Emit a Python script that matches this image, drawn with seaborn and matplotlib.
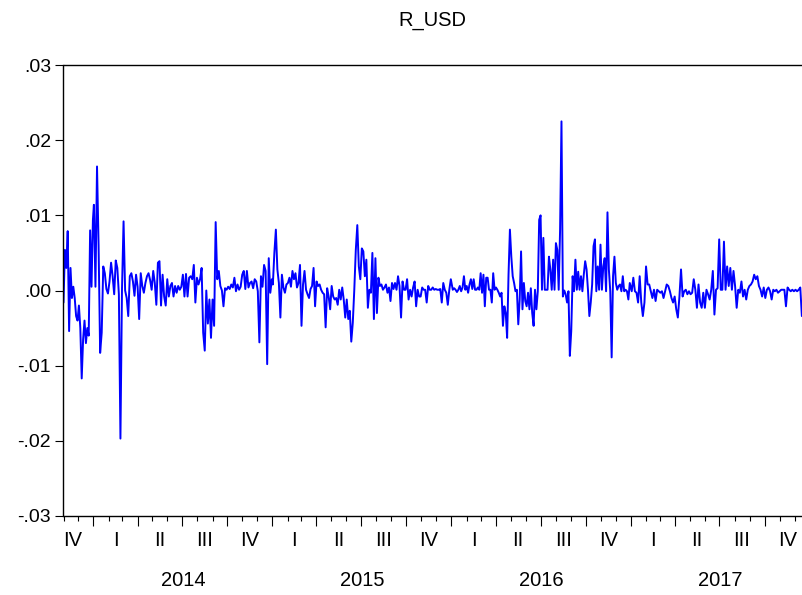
import numpy as np
import pandas as pd
import matplotlib
matplotlib.use("Agg")
import matplotlib.pyplot as plt
import matplotlib.dates as mdates
from matplotlib.ticker import FuncFormatter
from matplotlib.transforms import blended_transform_factory
import seaborn as sns

# Daily USD returns, in thousandths, grouped by calendar year
r_2013 = [-1.6, 5.4, 3.0, 7.9, -5.4, 3.0, -1.0, 0.5, -1.0, -3.4, -4.0, -2.0, -5.0,
          -11.7, -6.5, -4.0, -7.0, -5.0, -6.0, 8.0, 0.5, 9.4]

r_2014 = [11.4, 0.5, 16.5, 6.0, -8.3, -5.6, 3.2, 2.3, 0.2, -0.4, 1.2, 3.7, 1.9, -0.5,
          4.0, 3.0, -0.5, -19.7, 0.2, 9.2, 0.0, -1.0, -3.4, 1.9, 2.3, 1.2, -0.7, 2.1,
          0.5, -3.8, 2.3, 0.6, -0.3, 1.0, 1.9, 2.3, 1.4, 0.1, 2.6, 1.0, -1.9, 3.7, 3.9,
          -2.0, 2.1, -0.8, -2.0, 1.5, -0.8, 0.6, 1.0, -0.8, 0.6, -0.3, 0.6, 0.1, 0.5,
          2.1, -0.8,
          2.2, -0.8, 1.7, 1.9, 1.5, 3.4, -1.6, 1.7, 0.8, 1.5, 3.0, -5.6, -8.0, 0.0,
          -4.4, -1.2, -6.3, -1.2, -4.7, 9.1, 1.5, 2.6, 0.6, 0.0, -2.1, 0.3, 0.1, 0.5,
          0.2, 0.8, 0.4, 1.7, -0.1, 0.8, 0.1, 0.5, 2.1, 2.6, 0.2, 2.6, 0.4, 1.0, 1.2,
          0.3, 1.5, 1.2, -0.1, -6.9, 1.9, 0.5, 3.4, 2.6, -9.8, 4.3, -0.3, 1.5]

r_2015 = [0.8, 5.0, 8.1, 2.8, 1.0, -3.6, 2.1, 0.4, -0.3, 0.8, 1.0, 1.7, 0.5, 2.6,
          1.5, 2.3, 0.4, 1.0, 3.4, -4.7, 0.8, 2.6, 0.1, -0.5, -1.0, 0.2, 0.6, 3.0,
          -2.1,
          1.2, 0.6, 0.8, 0.1, -0.3, -0.5, -4.9, 0.3, -0.8, -2.5, 0.6, -0.8, -1.2,
          -1.0, -1.9, 0.1, -1.2, 0.4, -1.2, -3.6, -1.2, -3.8, -2.7, -6.8, -4.3, 0.1,
          5.4, 8.7, 3.2, 1.5, 5.6, 5.2, 1.9, 4.1, -2.3, 0.1, -0.3, 5.0, -3.8, 4.3,
          -3.0, 1.7, 0.6, 0.8, 0.1, 0.4, 0.8, -0.3, 0.4, -1.4, 1.0, 0.2, 1.0, 0.1,
          1.9, 0.6, -3.6, 1.2, 0.1, 0.1, 1.5, -1.2, 0.1, -0.8, 0.4, 1.2, -2.1, 0.1,
          -0.8, -0.8, 0.4, 0.1, 0.1, -1.6, 0.6, 0.1, 0.1, 0.4, 0.1, 0.2, 0.1, 0.1,
          0.2, -1.6, 1.0, 0.1, -0.3, -1.9, 0.1, 1.5]

r_2016 = [0.1, 0.3, 0.1, -0.2, 0.1, 0.6, -0.1, 0.4, 1.9, 0.1, 0.6, -0.3, 0.8, 1.5,
          0.2, 1.5, 0.1, 0.1, 0.4, 0.1, 2.3, -0.3, 2.1, -2.1, 1.7, 1.7, 0.1, 0.1,
          -1.6, 2.3, 0.1, 0.4, 0.1, -0.3, -0.8, -0.3, -4.7, -2.1, -3.0, -6.3, 2.1,
          8.1, 4.5, 1.9, 1.0, -0.1, 0.1, -4.5, -1.2, 5.2, -2.5, 1.0, -1.4, -2.1,
          -0.3, -2.5, 0.3, -3.0, -4.7, 0.1, -2.5, -0.1, 9.4, 10.0, 0.1, 7.0, 0.1,
          0.1, 0.1, 4.5, 2.8, 0.1, 4.1, 0.1, 6.3, 5.4, 0.1, 8.1, 22.5, -0.8,
          0.0, -0.5, -1.6, -0.1, -8.7, -5.4, 1.9, -0.1, 4.1, 0.1, 2.5, 0.1, 1.9,
          -0.1, 2.1, 3.9, 2.8, 0.1, -3.4, -1.6, 0.8, 5.9, 6.8, -0.1, 3.2, 0.1, 6.1,
          0.1, 3.2, 4.3, -0.1, 10.4, 2.8, -0.1, -8.9, 1.9, 4.5, 1.0, 0.1, 0.6, 0.8,
          -0.1, 1.9, -0.1, 0.1, -0.1, -1.2, 1.0]

r_2017 = [-0.1, 1.7, -0.1, -0.3, -1.6, 1.9, -1.6, -3.4, -1.6, 3.2, 0.8, 0.8, -0.1,
          -1.0, 0.1, -1.4, 0.1, -0.1, -0.3, -0.1, -1.0, -0.1, 0.8, 0.6, -0.1, -1.0,
          -1.6, -0.8, -2.5, -3.6, -0.8, 2.8, -0.8, -0.1, 0.1,
          -0.5, -0.1, -0.5, -0.3, 1.5, 0.1, -2.3, 0.8, -1.6, -2.3, -0.3, -2.3, 0.1,
          -0.5, -1.2, 0.1, 2.6, -3.2, 0.1, 0.3, 6.8, 0.1, 0.1, 6.5, 0.1, 3.2, 0.6,
          3.0, 0.1, 2.6, 0.6, -2.3, 0.1, -0.3, 1.2, -0.8, 0.1, -1.2, 0.1, 0.6, 0.8,
          1.2, 2.1, 1.5, 1.9, 0.6, 0.1, -0.8, 0.4, -1.0, 0.1, 0.4, -0.1, -1.2, 0.1,
          -0.1, 0.1, -0.3, -0.1, 0.1, 0.1, 0.1, -2.1, 0.4, 0.1, -0.1, 0.1, -0.1, 0.1,
          -0.1, 0.1, 0.4, -3.4, -0.5, 0.3, 0.2, -0.2]

periods = [
    ("2013-11-01", "2013-12-31", r_2013),
    ("2014-01-02", "2014-12-31", r_2014),
    ("2015-01-02", "2015-12-31", r_2015),
    ("2016-01-04", "2016-12-30", r_2016),
    ("2017-01-03", "2017-12-29", r_2017),
]

quarter_names = ["I", "II", "III", "IV"]
year_labels = [2014, 2015, 2016, 2017]

frames = []
for start, end, vals in periods:
    dates = pd.date_range(start, end, periods=len(vals))
    frames.append(pd.DataFrame({"date": dates, "r_usd": np.asarray(vals) / 1000.0}))
df = pd.concat(frames, ignore_index=True)

sns.set_style("ticks")
plt.rcParams["font.family"] = ["Liberation Sans", "DejaVu Sans"]

W, H = 803, 595
fig = plt.figure(figsize=(W / 100, H / 100), dpi=100)
ax = fig.add_axes([63.5 / W, 1 - 516 / H, (809.7 - 63.5) / W, (516 - 65) / H])

sns.lineplot(data=df, x="date", y="r_usd", color="#0000FF", linewidth=1.4,
             estimator=None, ax=ax)

ax.set_xlim(pd.Timestamp("2013-11-01"), pd.Timestamp("2018-01-01"))
ax.set_ylim(-0.03, 0.03)
ax.set_yticks([-0.03, -0.02, -0.01, 0.0, 0.01, 0.02, 0.03])
ax.yaxis.set_major_formatter(FuncFormatter(
    lambda v, _: f"{v:.2f}".replace("0.", ".").replace("-.00", ".00")))
ax.xaxis.set_major_locator(mdates.MonthLocator(bymonth=[1, 4, 7, 10]))
ax.xaxis.set_minor_locator(mdates.MonthLocator())
ax.xaxis.set_major_formatter(plt.NullFormatter())
ax.xaxis.set_minor_formatter(plt.NullFormatter())
ax.tick_params(axis="x", which="major", length=7, width=0.8, color="black")
ax.tick_params(axis="x", which="minor", length=3.5, width=0.8, color="black")
ax.tick_params(axis="y", length=6, width=0.8, color="black", labelsize=14,
               pad=3, labelcolor="black")
ax.set_xlabel("")
ax.set_ylabel("")
for sp in ax.spines.values():
    sp.set_visible(True)
    sp.set_color("black")
    sp.set_linewidth(1.0)

# Quarter and year labels below the axis
trans = blended_transform_factory(ax.transData, fig.transFigure)
q_centers = [(pd.Timestamp("2013-11-20"), "IV")]
for yr in year_labels:
    for q in range(4):
        qs = pd.Timestamp(year=yr, month=3 * q + 1, day=1)
        qe = qs + pd.offsets.QuarterBegin(startingMonth=1)
        q_centers.append((qs + (qe - qs) / 2, quarter_names[q]))
for center, name in q_centers:
    ax.text(mdates.date2num(center), 1 - 541 / H, name, transform=trans,
            ha="center", va="center", fontsize=14.5, color="black")
for yr in year_labels:
    mid = pd.Timestamp(year=yr, month=1, day=1) + (
        pd.Timestamp(year=yr + 1, month=1, day=1) - pd.Timestamp(year=yr, month=1, day=1)) / 2
    ax.text(mdates.date2num(mid), 1 - 580 / H, str(yr), transform=trans,
            ha="center", va="center", fontsize=14.5, color="black")

fig.text(432 / W, 1 - 20 / H, "R_USD", ha="center", va="center", fontsize=14.5,
         color="black")

fig.savefig("out.png", dpi=100)
